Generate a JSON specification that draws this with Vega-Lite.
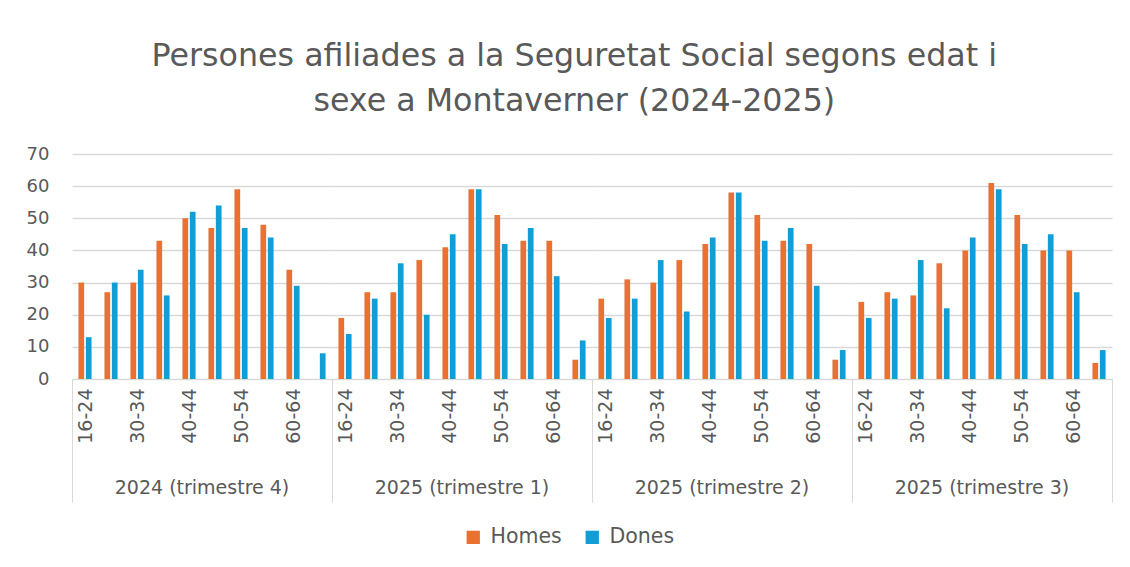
{
  "$schema": "https://vega.github.io/schema/vega-lite/v6.json",
  "background": "white",
  "padding": {"left": 26, "top": 41, "right": 17, "bottom": 5},
  "title": {
    "text": ["Persones afiliades a la Seguretat Social segons edat i", "sexe a Montaverner (2024-2025)"],
    "font": "DejaVu Sans",
    "fontSize": 31.7,
    "fontWeight": "normal",
    "color": "#595959",
    "lineHeight": 45,
    "anchor": "middle",
    "frame": "bounds",
    "dx": 5,
    "offset": 27
  },
  "data": {
    "values": [
      {"periode": "2024 (trimestre 4)", "edat": "16-24", "sexe": "Homes", "persones": 30},
      {"periode": "2024 (trimestre 4)", "edat": "16-24", "sexe": "Dones", "persones": 13},
      {"periode": "2024 (trimestre 4)", "edat": "25-29", "sexe": "Homes", "persones": 27},
      {"periode": "2024 (trimestre 4)", "edat": "25-29", "sexe": "Dones", "persones": 30},
      {"periode": "2024 (trimestre 4)", "edat": "30-34", "sexe": "Homes", "persones": 30},
      {"periode": "2024 (trimestre 4)", "edat": "30-34", "sexe": "Dones", "persones": 34},
      {"periode": "2024 (trimestre 4)", "edat": "35-39", "sexe": "Homes", "persones": 43},
      {"periode": "2024 (trimestre 4)", "edat": "35-39", "sexe": "Dones", "persones": 26},
      {"periode": "2024 (trimestre 4)", "edat": "40-44", "sexe": "Homes", "persones": 50},
      {"periode": "2024 (trimestre 4)", "edat": "40-44", "sexe": "Dones", "persones": 52},
      {"periode": "2024 (trimestre 4)", "edat": "45-49", "sexe": "Homes", "persones": 47},
      {"periode": "2024 (trimestre 4)", "edat": "45-49", "sexe": "Dones", "persones": 54},
      {"periode": "2024 (trimestre 4)", "edat": "50-54", "sexe": "Homes", "persones": 59},
      {"periode": "2024 (trimestre 4)", "edat": "50-54", "sexe": "Dones", "persones": 47},
      {"periode": "2024 (trimestre 4)", "edat": "55-59", "sexe": "Homes", "persones": 48},
      {"periode": "2024 (trimestre 4)", "edat": "55-59", "sexe": "Dones", "persones": 44},
      {"periode": "2024 (trimestre 4)", "edat": "60-64", "sexe": "Homes", "persones": 34},
      {"periode": "2024 (trimestre 4)", "edat": "60-64", "sexe": "Dones", "persones": 29},
      {"periode": "2024 (trimestre 4)", "edat": "65+", "sexe": "Homes", "persones": 0},
      {"periode": "2024 (trimestre 4)", "edat": "65+", "sexe": "Dones", "persones": 8},
      {"periode": "2025 (trimestre 1)", "edat": "16-24", "sexe": "Homes", "persones": 19},
      {"periode": "2025 (trimestre 1)", "edat": "16-24", "sexe": "Dones", "persones": 14},
      {"periode": "2025 (trimestre 1)", "edat": "25-29", "sexe": "Homes", "persones": 27},
      {"periode": "2025 (trimestre 1)", "edat": "25-29", "sexe": "Dones", "persones": 25},
      {"periode": "2025 (trimestre 1)", "edat": "30-34", "sexe": "Homes", "persones": 27},
      {"periode": "2025 (trimestre 1)", "edat": "30-34", "sexe": "Dones", "persones": 36},
      {"periode": "2025 (trimestre 1)", "edat": "35-39", "sexe": "Homes", "persones": 37},
      {"periode": "2025 (trimestre 1)", "edat": "35-39", "sexe": "Dones", "persones": 20},
      {"periode": "2025 (trimestre 1)", "edat": "40-44", "sexe": "Homes", "persones": 41},
      {"periode": "2025 (trimestre 1)", "edat": "40-44", "sexe": "Dones", "persones": 45},
      {"periode": "2025 (trimestre 1)", "edat": "45-49", "sexe": "Homes", "persones": 59},
      {"periode": "2025 (trimestre 1)", "edat": "45-49", "sexe": "Dones", "persones": 59},
      {"periode": "2025 (trimestre 1)", "edat": "50-54", "sexe": "Homes", "persones": 51},
      {"periode": "2025 (trimestre 1)", "edat": "50-54", "sexe": "Dones", "persones": 42},
      {"periode": "2025 (trimestre 1)", "edat": "55-59", "sexe": "Homes", "persones": 43},
      {"periode": "2025 (trimestre 1)", "edat": "55-59", "sexe": "Dones", "persones": 47},
      {"periode": "2025 (trimestre 1)", "edat": "60-64", "sexe": "Homes", "persones": 43},
      {"periode": "2025 (trimestre 1)", "edat": "60-64", "sexe": "Dones", "persones": 32},
      {"periode": "2025 (trimestre 1)", "edat": "65+", "sexe": "Homes", "persones": 6},
      {"periode": "2025 (trimestre 1)", "edat": "65+", "sexe": "Dones", "persones": 12},
      {"periode": "2025 (trimestre 2)", "edat": "16-24", "sexe": "Homes", "persones": 25},
      {"periode": "2025 (trimestre 2)", "edat": "16-24", "sexe": "Dones", "persones": 19},
      {"periode": "2025 (trimestre 2)", "edat": "25-29", "sexe": "Homes", "persones": 31},
      {"periode": "2025 (trimestre 2)", "edat": "25-29", "sexe": "Dones", "persones": 25},
      {"periode": "2025 (trimestre 2)", "edat": "30-34", "sexe": "Homes", "persones": 30},
      {"periode": "2025 (trimestre 2)", "edat": "30-34", "sexe": "Dones", "persones": 37},
      {"periode": "2025 (trimestre 2)", "edat": "35-39", "sexe": "Homes", "persones": 37},
      {"periode": "2025 (trimestre 2)", "edat": "35-39", "sexe": "Dones", "persones": 21},
      {"periode": "2025 (trimestre 2)", "edat": "40-44", "sexe": "Homes", "persones": 42},
      {"periode": "2025 (trimestre 2)", "edat": "40-44", "sexe": "Dones", "persones": 44},
      {"periode": "2025 (trimestre 2)", "edat": "45-49", "sexe": "Homes", "persones": 58},
      {"periode": "2025 (trimestre 2)", "edat": "45-49", "sexe": "Dones", "persones": 58},
      {"periode": "2025 (trimestre 2)", "edat": "50-54", "sexe": "Homes", "persones": 51},
      {"periode": "2025 (trimestre 2)", "edat": "50-54", "sexe": "Dones", "persones": 43},
      {"periode": "2025 (trimestre 2)", "edat": "55-59", "sexe": "Homes", "persones": 43},
      {"periode": "2025 (trimestre 2)", "edat": "55-59", "sexe": "Dones", "persones": 47},
      {"periode": "2025 (trimestre 2)", "edat": "60-64", "sexe": "Homes", "persones": 42},
      {"periode": "2025 (trimestre 2)", "edat": "60-64", "sexe": "Dones", "persones": 29},
      {"periode": "2025 (trimestre 2)", "edat": "65+", "sexe": "Homes", "persones": 6},
      {"periode": "2025 (trimestre 2)", "edat": "65+", "sexe": "Dones", "persones": 9},
      {"periode": "2025 (trimestre 3)", "edat": "16-24", "sexe": "Homes", "persones": 24},
      {"periode": "2025 (trimestre 3)", "edat": "16-24", "sexe": "Dones", "persones": 19},
      {"periode": "2025 (trimestre 3)", "edat": "25-29", "sexe": "Homes", "persones": 27},
      {"periode": "2025 (trimestre 3)", "edat": "25-29", "sexe": "Dones", "persones": 25},
      {"periode": "2025 (trimestre 3)", "edat": "30-34", "sexe": "Homes", "persones": 26},
      {"periode": "2025 (trimestre 3)", "edat": "30-34", "sexe": "Dones", "persones": 37},
      {"periode": "2025 (trimestre 3)", "edat": "35-39", "sexe": "Homes", "persones": 36},
      {"periode": "2025 (trimestre 3)", "edat": "35-39", "sexe": "Dones", "persones": 22},
      {"periode": "2025 (trimestre 3)", "edat": "40-44", "sexe": "Homes", "persones": 40},
      {"periode": "2025 (trimestre 3)", "edat": "40-44", "sexe": "Dones", "persones": 44},
      {"periode": "2025 (trimestre 3)", "edat": "45-49", "sexe": "Homes", "persones": 61},
      {"periode": "2025 (trimestre 3)", "edat": "45-49", "sexe": "Dones", "persones": 59},
      {"periode": "2025 (trimestre 3)", "edat": "50-54", "sexe": "Homes", "persones": 51},
      {"periode": "2025 (trimestre 3)", "edat": "50-54", "sexe": "Dones", "persones": 42},
      {"periode": "2025 (trimestre 3)", "edat": "55-59", "sexe": "Homes", "persones": 40},
      {"periode": "2025 (trimestre 3)", "edat": "55-59", "sexe": "Dones", "persones": 45},
      {"periode": "2025 (trimestre 3)", "edat": "60-64", "sexe": "Homes", "persones": 40},
      {"periode": "2025 (trimestre 3)", "edat": "60-64", "sexe": "Dones", "persones": 27},
      {"periode": "2025 (trimestre 3)", "edat": "65+", "sexe": "Homes", "persones": 5},
      {"periode": "2025 (trimestre 3)", "edat": "65+", "sexe": "Dones", "persones": 9}
    ]
  },
  "facet": {
    "column": {
      "field": "periode",
      "type": "nominal",
      "header": {
        "title": null,
        "labelOrient": "bottom",
        "labelFont": "DejaVu Sans",
        "labelFontSize": 19,
        "labelColor": "#595959",
        "labelPadding": -24
      }
    }
  },
  "spacing": 0,
  "spec": {
    "width": 260,
    "height": 225,
    "mark": {"type": "bar"},
    "encoding": {
      "x": {
        "field": "edat",
        "type": "nominal",
        "sort": ["16-24", "25-29", "30-34", "35-39", "40-44", "45-49", "50-54", "55-59", "60-64", "65+"],
        "scale": {"paddingInner": 0, "paddingOuter": 0},
        "axis": {
          "title": null,
          "labelAngle": -90,
          "labelFont": "DejaVu Sans",
          "labelFontSize": 19,
          "labelColor": "#595959",
          "labelExpr": "indexof(['16-24','30-34','40-44','50-54','60-64'], datum.value) >= 0 ? datum.label : ''",
          "tickBand": "extent",
          "tickSize": 123,
          "tickWidth": 1,
          "tickColor": {"condition": {"test": "datum.extra || datum.value === '65+'", "value": "#d9d9d9"}, "value": "transparent"},
          "labelPadding": -114,
          "domainColor": "#d9d9d9",
          "domainWidth": 1
        }
      },
      "xOffset": {
        "field": "sexe",
        "type": "nominal",
        "sort": ["Homes", "Dones"],
        "scale": {"paddingInner": 0.23, "paddingOuter": 0.87}
      },
      "y": {
        "field": "persones",
        "type": "quantitative",
        "scale": {"domain": [0, 70], "nice": false},
        "axis": {
          "title": null,
          "values": [0, 10, 20, 30, 40, 50, 60, 70],
          "labelFont": "DejaVu Sans",
          "labelFontSize": 18,
          "labelColor": "#595959",
          "labelPadding": 23,
          "domain": false,
          "ticks": false,
          "gridColor": "#d9d9d9",
          "gridWidth": 1.3
        }
      },
      "color": {
        "field": "sexe",
        "type": "nominal",
        "sort": ["Homes", "Dones"],
        "scale": {"domain": ["Homes", "Dones"], "range": ["#E97132", "#0F9ED5"]},
        "legend": {
          "title": null,
          "orient": "bottom",
          "direction": "horizontal",
          "symbolType": "square",
          "symbolSize": 177,
          "symbolStrokeWidth": 0,
          "labelFont": "DejaVu Sans",
          "labelFontSize": 20.5,
          "labelColor": "#595959",
          "labelOffset": 7,
          "columnPadding": 20,
          "offset": 24
        }
      }
    }
  },
  "config": {
    "view": {"stroke": null},
    "legend": {"layout": {"bottom": {"anchor": "middle"}}}
  }
}
